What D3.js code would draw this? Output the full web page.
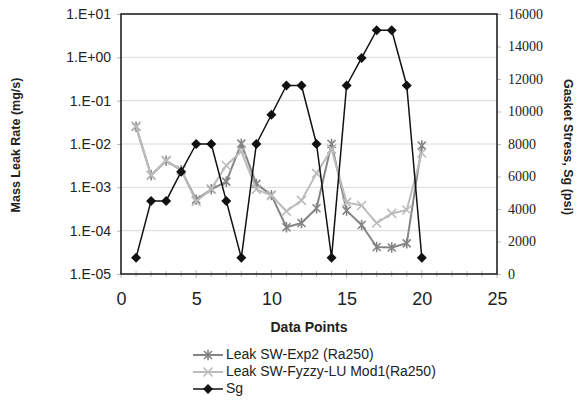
<!DOCTYPE html>
<html>
<head>
<meta charset="utf-8">
<script src="https://cdn.jsdelivr.net/npm/d3@7"></script>
<style>
  body { margin: 0; background: #fff; }
  svg { display: block; font-family: Arial, "Liberation Sans", sans-serif; }
</style>
</head>
<body>
<div id="chart"></div>
<script>
// data
var points = [1,2,3,4,5,6,7,8,9,10,11,12,13,14,15,16,17,18,19,20]
var leakExp2 = [0.025, 0.0019, 0.0041, 0.0025, 0.00052, 0.0009, 0.00135, 0.0102, 0.0012, 0.00066,
                0.00012, 0.00015, 0.00033, 0.0100, 0.00029, 0.000135, 0.000042, 0.000041, 0.000051, 0.0092]
var leakFuzzy = [0.026, 0.0019, 0.0042, 0.0025, 0.00047, 0.00092, 0.0032, 0.0068, 0.0009, 0.00065,
                 0.00028, 0.0005, 0.0021, 0.0076, 0.00045, 0.00038, 0.00015, 0.00025, 0.0003, 0.0062]
var sg = [1000, 4500, 4500, 6300, 8000, 8000, 4500, 1000, 8000, 9800,
          11600, 11600, 8000, 1000, 11600, 13300, 15000, 15000, 11600, 1000]
var leakTicks = [1e-5, 1e-4, 1e-3, 1e-2, 1e-1, 1e0, 1e1]
var leakTickLabels = ["1.E-05", "1.E-04", "1.E-03", "1.E-02", "1.E-01", "1.E+00", "1.E+01"]
var sgTicks = [0, 2000, 4000, 6000, 8000, 10000, 12000, 14000, 16000]
var xTicks = [0, 5, 10, 15, 20, 25]
var legendNames = ["Leak SW-Exp2 (Ra250)", "Leak SW-Fyzzy-LU Mod1(Ra250)", "Sg"]

const W = 578, H = 406
const margin = {top: 14, right: 81, bottom: 132, left: 121}
const width = W - margin.left - margin.right,
      height = H - margin.top - margin.bottom

const colExp2 = '#858585', colFuzzy = '#bcbcbc', colSg = '#111'

const svg = d3.select('#chart').append('svg')
    .attr('width', W).attr('height', H)

const g = svg.append('g').attr('transform', `translate(${margin.left},${margin.top})`)

const xScale = d3.scaleLinear().domain([0, 25]).range([0, width])
const yScale = d3.scaleLog().domain([1e-5, 1e1]).range([height, 0])
const y2Scale = d3.scaleLinear().domain([0, 16000]).range([height, 0])

// gridlines
g.append('g').selectAll('line')
    .data(leakTicks.slice(1, -1))
    .enter().append('line')
    .attr('x1', 0).attr('x2', width)
    .attr('y1', d => yScale(d)).attr('y2', d => yScale(d))
    .attr('stroke', '#dadada').attr('stroke-width', 1)

// x axis: minor ticks every unit, labels every 5
const xMinor = d3.range(0, 26)
g.append('g').selectAll('line')
    .data(xMinor)
    .enter().append('line')
    .attr('x1', d => xScale(d)).attr('x2', d => xScale(d))
    .attr('y1', d => height - (d % 5 == 0 ? 4 : 3)).attr('y2', d => height + (d % 5 == 0 ? 4 : 3))
    .attr('stroke', '#bbb').attr('stroke-width', 1)

const xAxis = d3.axisBottom(xScale).tickValues(xTicks).tickSize(0).tickPadding(18)
const xAxisGroup = g.append('g')
    .attr('transform', `translate(0,${height})`)
    .call(xAxis)
xAxisGroup.select('.domain').remove()
xAxisGroup.selectAll('text')
    .attr('font-family', 'Arial, "Liberation Sans", sans-serif')
    .attr('font-size', 18).attr('fill', '#222')

// left axis
const yAxis = d3.axisLeft(yScale).tickValues(leakTicks)
    .tickFormat((d, i) => leakTickLabels[i]).tickSize(4).tickPadding(6)
const yAxisGroup = g.append('g').call(yAxis)
yAxisGroup.select('.domain').remove()
yAxisGroup.selectAll('line').attr('stroke', '#bbb')
yAxisGroup.selectAll('text')
    .attr('font-family', 'Arial, "Liberation Sans", sans-serif')
    .attr('font-size', 14).attr('fill', '#222')

// right axis
const y2Axis = d3.axisRight(y2Scale).tickValues(sgTicks).tickSize(4).tickPadding(7)
    .tickFormat(d => d)
const y2AxisGroup = g.append('g').attr('transform', `translate(${width},0)`).call(y2Axis)
y2AxisGroup.select('.domain').remove()
y2AxisGroup.selectAll('line').attr('stroke', '#bbb')
y2AxisGroup.selectAll('text')
    .attr('font-family', '"Liberation Serif", "Times New Roman", serif')
    .attr('font-size', 14).attr('fill', '#222')

// frame
g.append('rect')
    .attr('x', 0).attr('y', 0).attr('width', width).attr('height', height)
    .attr('fill', 'none').attr('stroke', '#222').attr('stroke-width', 1.6)

// markers
function starPath(s) {
    return `M${-s},${-s}L${s},${s}M${-s},${s}L${s},${-s}M0,${-s * 1.3}L0,${s * 1.3}`
}
function crossPath(s) {
    return `M${-s},${-s}L${s},${s}M${-s},${s}L${s},${-s}`
}
function diamondPath(s) {
    return `M0,${-s}L${s},0L0,${s}L${-s},0Z`
}

const series = [
    {name: legendNames[0], values: leakExp2, scale: yScale, color: colExp2, width: 2, marker: 'star'},
    {name: legendNames[1], values: leakFuzzy, scale: yScale, color: colFuzzy, width: 2, marker: 'cross'},
    {name: legendNames[2], values: sg, scale: y2Scale, color: colSg, width: 1.5, marker: 'diamond'}
]

function drawMarker(sel, s) {
    if (s.marker == 'diamond') {
        sel.append('path').attr('d', diamondPath(5)).attr('fill', s.color)
    } else {
        sel.append('path')
            .attr('d', s.marker == 'star' ? starPath(4) : crossPath(4.5))
            .attr('fill', 'none').attr('stroke', s.color).attr('stroke-width', 1.6)
    }
}

series.forEach(s => {
    const line = d3.line()
        .x((d, i) => xScale(points[i]))
        .y(d => s.scale(d))
    g.append('path')
        .datum(s.values)
        .attr('fill', 'none')
        .attr('stroke', s.color)
        .attr('stroke-width', s.width)
        .attr('stroke-linejoin', 'round')
        .attr('d', line)
    s.values.forEach((v, i) => {
        const m = g.append('g').attr('transform', `translate(${xScale(points[i])},${s.scale(v)})`)
        drawMarker(m, s)
    })
})

// axis titles
svg.append('text')
    .attr('transform', 'translate(17,145) rotate(-90)')
    .attr('text-anchor', 'middle').attr('dominant-baseline', 'middle')
    .attr('font-size', 12.5).attr('font-weight', 'bold').attr('fill', '#222')
    .text('Mass Leak Rate (mg/s)')

svg.append('text')
    .attr('transform', 'translate(567,147) rotate(90)')
    .attr('text-anchor', 'middle').attr('dominant-baseline', 'middle')
    .attr('font-size', 12.5).attr('font-weight', 'bold').attr('fill', '#222')
    .text('Gasket Stress, Sg (psi)')

svg.append('text')
    .attr('x', 309).attr('y', 332)
    .attr('text-anchor', 'middle')
    .attr('font-size', 14).attr('font-weight', 'bold').attr('fill', '#222')
    .text('Data Points')

// legend
const legend = svg.append('g').attr('transform', 'translate(193,355)')
series.forEach((s, i) => {
    const row = legend.append('g').attr('transform', `translate(0,${i * 17})`)
    row.append('line')
        .attr('x1', 0).attr('x2', 30).attr('y1', 0).attr('y2', 0)
        .attr('stroke', s.color).attr('stroke-width', s.width)
    const m = row.append('g').attr('transform', 'translate(15,0)')
    drawMarker(m, s)
    row.append('text')
        .attr('x', 33).attr('y', 0)
        .attr('dominant-baseline', 'middle')
        .attr('font-size', 14).attr('fill', '#222')
        .text(s.name)
})
</script>
</body>
</html>
